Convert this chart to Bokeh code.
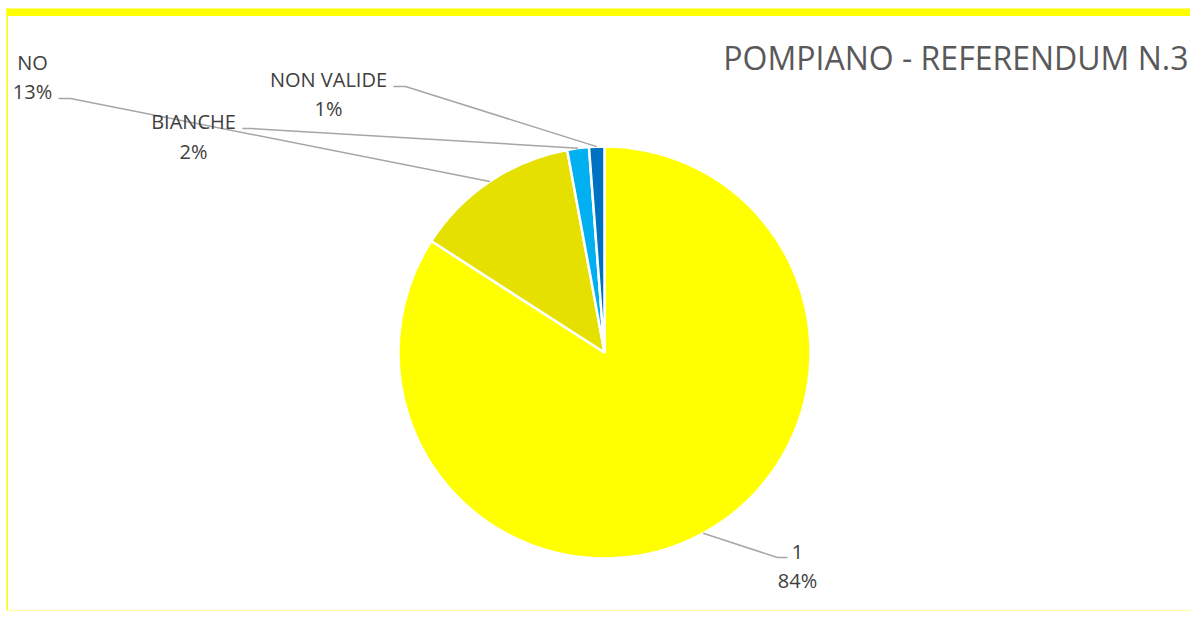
from bokeh.plotting import figure
from bokeh.models import Range1d, ColumnDataSource
from bokeh.embed import file_html
from bokeh.resources import INLINE
from bokeh.core.properties import value
import numpy as np

# ---- data ----
categories = ["1", "NO", "BIANCHE", "NON VALIDE"]
shares = [84.1, 13.0, 1.7, 1.2]
colors = ["#FFFF00", "#E5E000", "#00B0F0", "#0070C0"]
title_text = "POMPIANO - REFERENDUM N.3"

# ---- layout (screen pixel coords, converted to data coords) ----
W, H = 1190, 611


def px(x):
    return x


def py(y):
    return H - y


label_pos = {  # name center, pct center, elbow, end of leader
    "1": ((797, 551), (797, 580), (777, 557), (787, 557)),
    "NO": ((32, 62), (32, 91), (70, 98), (58, 98)),
    "BIANCHE": ((193, 121), (193, 151), (250, 128), (242, 128)),
    "NON VALIDE": ((328, 79), (328, 108), (405, 86), (393, 86)),
}

p = figure(width=W, height=H, x_range=Range1d(0, W), y_range=Range1d(0, H),
           output_backend="svg", toolbar_location=None, min_border=0)
p.axis.visible = False
p.grid.visible = False
p.outline_line_color = None
p.background_fill_color = "white"
p.border_fill_color = "white"

# frame decorations
p.quad(left=px(6), right=W, bottom=py(15.5), top=py(8), fill_color="#FFFF00", line_color=None)
p.quad(left=px(6), right=px(7.5), bottom=0, top=py(8), fill_color="#FFFF00", line_color=None)
p.quad(left=px(6), right=W, bottom=0, top=1.5, fill_color="#FFFF99", line_color=None)

cx, cy, r = px(604), py(352), 206
fr = np.array(shares) / sum(shares)
cum = np.concatenate([[0], np.cumsum(fr)])
start = np.pi / 2 - 2 * np.pi * cum[:-1]
end = np.pi / 2 - 2 * np.pi * cum[1:]
mid = (start + end) / 2

src = ColumnDataSource(dict(start=start, end=end, color=colors))
p.wedge(x=cx, y=cy, radius=r, start_angle="start", end_angle="end",
        direction="clock", fill_color="color", line_color="white",
        line_width=2.5, source=src)

font = value("Open Sans")
for cat, s, th in zip(categories, shares, mid):
    (nx, ny), (qx, qy), (ex, ey), (tx, ty) = label_pos[cat]
    ax, ay = cx + r * np.cos(th), cy + r * np.sin(th)
    p.line([ax, px(ex), px(tx)], [ay, py(ey), py(ty)], line_color="#A6A6A6", line_width=1.5)
    p.text(x=[px(nx)], y=[py(ny)], text=[cat], text_font=font, text_font_size="20px",
           text_color="#404040", text_align="center", text_baseline="middle")
    p.text(x=[px(qx)], y=[py(qy)], text=[f"{round(s)}%"], text_font=font, text_font_size="20px",
           text_color="#404040", text_align="center", text_baseline="middle")

p.text(x=[px(1188)], y=[py(57)], text=[title_text], text_font=font, text_font_size="32px",
       text_color="#595959", text_align="right", text_baseline="middle")

open("out.html", "w").write(file_html(p, INLINE))
